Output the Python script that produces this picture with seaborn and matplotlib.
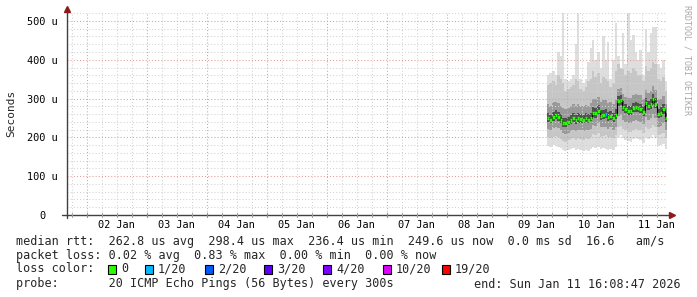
import matplotlib
matplotlib.use('Agg')
import matplotlib.pyplot as plt
import matplotlib.dates as mdates
import matplotlib.transforms as mtrans
from matplotlib.patches import Rectangle
import seaborn as sns
import pandas as pd

# ---------------- data ----------------
start_time = pd.Timestamp('2026-01-01 16:08:47')
end_time = pd.Timestamp('2026-01-11 16:08:47')
n_cols = 48  # hourly columns at the end of the range

mx = [360,365,370,360,420,410,520,350,345,350, 360,440,520,350,340,350,395,430,450,400,
      420,380,460,400,445,350,400,495,410,380, 470,390,520,450,465,420,400,425,360,480,
      420,470,485,485,390,380,400,345]
p90 = [335,340,345,335,360,350,340,320,325,330, 335,350,345,325,320,330,345,350,370,355,
       365,340,355,350,345,330,340,370,390,380, 375,360,370,365,380,370,360,360,345,385,
       370,380,395,390,350,345,355,320]
p75 = [285,280,290,292,288,282,275,272,276,280, 285,280,285,282,280,284,282,288,300,298,
       305,292,295,296,288,292,286,296,325,328, 312,305,302,302,310,312,310,308,300,322,
       315,320,332,322,295,298,306,285]
p60 = [264,258,266,271,266,259,250,249,253,258, 263,257,262,260,258,262,259,264,278,275,
       283,270,271,273,265,269,263,272,306,309, 293,286,282,281,289,291,289,287,280,302,
       294,299,312,301,274,277,286,263]
md = [250,245,253,258,252,246,237,236,240,244, 250,244,249,247,246,249,246,250,264,262,
      269,256,258,260,252,256,250,258,293,295, 279,272,268,268,275,277,276,274,266,288,
      280,285,298,287,260,263,272,250]
p40 = [240,236,243,248,242,237,228,227,231,235, 240,235,240,238,237,240,237,241,253,251,
       258,246,248,249,242,246,240,248,281,283, 268,262,258,258,265,266,265,264,256,277,
       270,274,286,276,250,253,261,240]
p25 = [222,218,224,228,224,218,210,208,212,216, 220,216,220,218,216,220,218,222,232,230,
       236,226,228,228,222,226,220,228,255,258, 245,240,236,236,242,244,242,240,234,252,
       246,250,260,250,228,230,238,220]
p10 = [200,198,202,204,200,196,190,188,192,195, 198,194,198,196,194,198,196,200,208,206,
       210,202,204,205,200,202,198,205,228,230, 222,218,214,214,220,222,220,218,212,226,
       222,224,232,226,205,208,212,198]
mn = [178,175,180,178,176,172,168,165,168,170, 172,168,170,168,165,168,166,170,175,172,
      176,170,172,170,168,170,168,175,200,205, 198,192,190,188,195,198,196,192,185,200,
      195,198,205,198,178,180,182,170]
loss = [0]*23 + [1] + [0]*24

y_ticks = [0, 100, 200, 300, 400, 500]
y_tick_labels = ['0  ', '100 u', '200 u', '300 u', '400 u', '500 u']
day_labels = ['02 Jan', '03 Jan', '04 Jan', '05 Jan', '06 Jan',
              '07 Jan', '08 Jan', '09 Jan', '10 Jan', '11 Jan']

loss_levels = ['0', '1/20', '2/20', '3/20', '4/20', '10/20', '19/20']
loss_colors = ['#26ff00', '#00b8ff', '#0059ff', '#5e00ff', '#7e00ff', '#dd00ff', '#ff0000']

line_rtt = "median rtt:  262.8 us avg  298.4 us max  236.4 us min  249.6 us now  0.0 ms sd  16.6   am/s"
line_loss = "packet loss: 0.02 % avg  0.83 % max  0.00 % min  0.00 % now"
line_probe = "probe:       20 ICMP Echo Pings (56 Bytes) every 300s"
line_end = "end: Sun Jan 11 16:08:47 2026"

# ---------------- figure ----------------
W, H = 697, 297
sns.set_theme(style='white')
plt.rcParams['font.family'] = ['DejaVu Sans Mono', 'DejaVu Sans']
FS = 8.5
FT = 7.4

fig = plt.figure(figsize=(W / 100, H / 100), dpi=100)
fig.patch.set_facecolor('white')

def fx(px):
    return px / W

def fy(py):
    return 1 - py / H

y_top = 523
ax = fig.add_axes([fx(67), fy(215), fx(667) - fx(67), fy(12) - fy(215)])
ax.set_facecolor('white')

edges = pd.date_range(end=end_time, periods=n_cols + 1, freq='h')
xe = mdates.date2num(edges.to_pydatetime())

def ext(a):
    return list(a) + [a[-1]]

layers = [(mn, mx, '#dedede'), (p10, p90, '#c6c6c6'), (p25, p75, '#9a9a9a'), (p40, p60, '#505050')]
for lo, hi, c in layers:
    ax.fill_between(xe, ext(lo), ext(hi), step='post', color=c, lw=0, zorder=1)

# grid
day0 = pd.Timestamp('2026-01-01')
x_start = mdates.date2num(start_time.to_pydatetime())
x_end = mdates.date2num(end_time.to_pydatetime())
GRID_MINOR = '#d2d2d2'
GRID_MAJOR = '#e49a9a'
t = day0
while t <= end_time:
    xv = mdates.date2num(t.to_pydatetime())
    if x_start < xv < x_end:
        c = GRID_MAJOR if t.hour == 0 else GRID_MINOR
        ax.axvline(xv, color=c, lw=0.75, ls=(0, (1, 2)), zorder=2)
    t += pd.Timedelta(hours=6)
for v in range(20, y_top, 20):
    c = GRID_MAJOR if v % 100 == 0 else GRID_MINOR
    ax.axhline(v, color=c, lw=0.75, ls=(0, (1, 2)), zorder=2)

# median line
df = pd.DataFrame({'t': xe, 'rtt': ext(md)})
sns.lineplot(data=df, x='t', y='rtt', drawstyle='steps-post', color='black',
             lw=0.8, ax=ax, zorder=3)
seg_colors = [loss_colors[l] for l in loss]
ax.hlines(md, xe[:-1], xe[1:], colors=seg_colors, lw=2.4, zorder=4)

ax.set_xlim(x_start, x_end)
ax.set_ylim(0, y_top)
ax.set_xlabel('')
ax.set_ylabel('')
for s in ax.spines.values():
    s.set_visible(False)

ax.set_yticks(y_ticks)
ax.set_yticklabels(y_tick_labels, fontsize=FT, color='black')
noons = [mdates.date2num((day0 + pd.Timedelta(days=d + 1, hours=12)).to_pydatetime())
         for d in range(len(day_labels))]
ax.set_xticks(noons)
ax.set_xticklabels(day_labels, fontsize=FT, color='black')
ax.tick_params(axis='both', length=0)
ax.tick_params(axis='y', pad=6.5)
ax.tick_params(axis='x', pad=3.5)

# axis lines with arrows
ax.plot([0, 0], [-0.015, 1.01], transform=ax.transAxes, color='#404040', lw=1,
        clip_on=False, zorder=6)
ax.plot([-0.008, 1.007], [0, 0], transform=ax.transAxes, color='#404040', lw=1,
        clip_on=False, zorder=6)
ax.plot([0], [1.015], marker='^', ms=4, color='#8b1a1a', transform=ax.transAxes,
        clip_on=False, zorder=7)
ax.plot([1.008], [0], marker='>', ms=4, color='#8b1a1a', transform=ax.transAxes,
        clip_on=False, zorder=7)

# small tick marks on x axis
bt = mtrans.blended_transform_factory(ax.transData, ax.transAxes)
t = day0
while t <= end_time:
    xv = mdates.date2num(t.to_pydatetime())
    if x_start < xv < x_end:
        col = '#d07070' if t.hour == 0 else '#a0a0a0'
        ax.plot([xv, xv], [-0.01, 0.01], transform=bt, color=col, lw=0.8,
                clip_on=False, zorder=6)
    t += pd.Timedelta(hours=6)

# texts
fig.text(fx(11), fy(113), 'Seconds', rotation=90, ha='center', va='center', fontsize=8.0)
fig.text(fx(687), fy(5), 'RRDTOOL / TOBI OETIKER', rotation=270, ha='center', va='top',
         fontsize=6.0, color='#a8a8a8')
fig.text(fx(16), fy(241), line_rtt, ha='left', va='center', fontsize=FS)
fig.text(fx(16), fy(256), line_loss, ha='left', va='center', fontsize=FS)
fig.text(fx(16), fy(284), line_probe, ha='left', va='center', fontsize=FS)
fig.text(fx(681), fy(284), line_end, ha='right', va='center', fontsize=FS)
fig.text(fx(16), fy(269), 'loss color:', ha='left', va='center', fontsize=FS)

box_x = [108, 145, 205, 264, 323, 383, 442]
for bx, lab, c in zip(box_x, loss_levels, loss_colors):
    fig.patches.append(Rectangle((fx(bx), fy(273.5)), fx(8), 9 / H, transform=fig.transFigure,
                                 facecolor=c, edgecolor='black', lw=0.8))
    fig.text(fx(bx + 13), fy(269), lab, ha='left', va='center', fontsize=FS)

fig.savefig('out.png', dpi=100, facecolor='white')
